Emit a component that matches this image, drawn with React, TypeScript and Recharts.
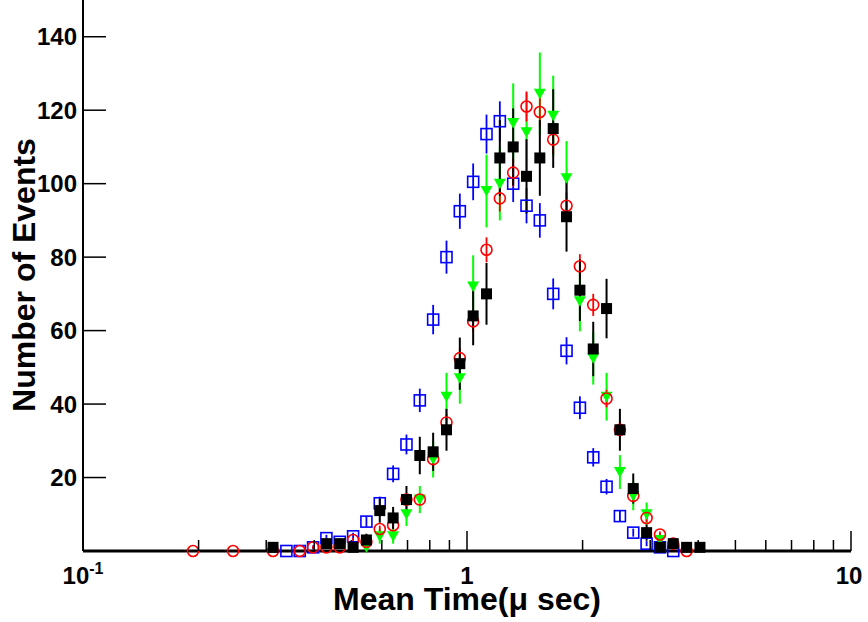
import React from "react";
import { ScatterChart, Scatter, XAxis, YAxis, ErrorBar, Label } from "recharts";

const _ = null;

// log-spaced bin centres, in microseconds
const binCenters = [
  0.1934, 0.2096, 0.227, 0.2459, 0.2664, 0.2885, 0.3125, 0.3386, 0.3668, 0.3973,
  0.4304, 0.4662, 0.5051, 0.5471, 0.5927, 0.6421, 0.6956, 0.7535, 0.8163, 0.8843,
  0.9579, 1.0376, 1.1241, 1.2176, 1.3191, 1.4289, 1.5477, 1.6768, 1.8163, 1.9679,
  2.1317, 2.309, 2.5015, 2.7098, 2.9358, 3.1802, 3.4443, 3.7318, 4.0428,
];

// open blue squares
const blueCounts = [
  _, _, _, _, _, _, _, 0, 0, 1,
  3.5, 2.5, 4, 8, 13, 21, 29, 41, 63, 80,
  92.5, 100.5, 113.5, 117, 100, 94, 90, 70, 54.5, 39,
  25.5, 17.5, 9.5, 5, 2, 1, 0, _, _,
];
const blueErrors = [
  _, _, _, _, _, _, _, 0, 0, 0.5,
  0.9, 0.8, 1, 1.4, 1.8, 2.3, 2.7, 3.2, 4, 4.5,
  4.8, 5, 5.3, 5.4, 5, 4.8, 4.7, 4.2, 3.7, 3.1,
  2.5, 2.1, 1.5, 1.1, 0.7, 0.5, 0, _, _,
];

// full green triangles (down)
const greenCounts = [
  _, _, _, _, _, _, _, _, _, _,
  _, _, _, 1, 4, 4, 10, 14, 25, 42,
  47, 72, 98, 100, 116.5, 114, 124.5, 118.5, 101.5, 68,
  52.5, 42, 21.5, 15, 10, 3, _, _, _,
];
const greenErrors = [
  _, _, _, _, _, _, _, _, _, _,
  _, _, _, 1, 2, 2, 3.2, 3.7, 5, 6.5,
  6.9, 8.5, 9.9, 10, 10.8, 10.7, 11.2, 10.9, 10.1, 8.2,
  7.2, 6.5, 4.6, 3.9, 3.2, 1.7, _, _, _,
];

// open red circles
const redCounts = [
  0, _, _, 0, _, _, 0, _, 0, 1,
  1, 1, 3, 2.5, 6, 7, 14, 14, 25, 35,
  52.5, 62.5, 82, 96, 103, 121, 119.5, 112, 94, 77.5,
  67, 41.5, 33, 15, 9, 4.5, 2, 0, _,
];
const redErrors = [
  0, _, _, 0, _, _, 0, _, 0, 0.4,
  0.4, 0.4, 0.6, 0.6, 0.9, 1, 1.4, 1.4, 1.9, 2.2,
  2.7, 2.9, 3.4, 3.6, 3.8, 4.1, 4, 3.9, 3.6, 3.3,
  3, 2.4, 2.1, 1.4, 1.1, 0.8, 0.5, 0, _,
];

// full black squares
const blackCounts = [
  _, _, _, _, _, _, 1, _, _, _,
  2, 2, 1, 3, 11, 9, 14, 26, 27, 33,
  51, 64, 70, 107, 110, 102, 107, 115, 91, 71,
  55, 66, 33, 17, 5, 1, 2, 1, 1,
];
const blackErrors = [
  _, _, _, _, _, _, 1, _, _, _,
  1.4, 1.4, 1, 1.7, 3.3, 3, 3.7, 5.1, 5.2, 5.7,
  7.1, 8, 8.4, 10.3, 10.5, 10.1, 10.3, 10.7, 9.5, 8.4,
  7.4, 8.1, 5.7, 4.1, 2.2, 1, 1.4, 1, 1,
];

const xTicks = [0.1, 0.2, 0.3, 0.4, 0.5, 0.6, 0.7, 0.8, 0.9, 1, 2, 3, 4, 5, 6, 7, 8, 9, 10];
const yTicks = [20, 40, 60, 80, 100, 120, 140];

const FONT = "'Liberation Sans', Arial, Helvetica, sans-serif";

function toPoints(counts: (number | null)[], errors: (number | null)[]) {
  const out: { x: number; y: number; err: number }[] = [];
  counts.forEach((c, i) => {
    if (c === null) return;
    out.push({ x: binCenters[i], y: c, err: errors[i] ?? 0 });
  });
  return out;
}

const blueData = toPoints(blueCounts, blueErrors);
const greenData = toPoints(greenCounts, greenErrors);
const redData = toPoints(redCounts, redErrors);
const blackData = toPoints(blackCounts, blackErrors);

const OpenSquare = ({ cx, cy }: any) => (
  <rect x={cx - 5.5} y={cy - 5.5} width={11} height={11} fill="none" stroke="#0000ff" strokeWidth={1.6} />
);
const OpenCircle = ({ cx, cy }: any) => (
  <circle cx={cx} cy={cy} r={5.5} fill="none" stroke="#ff0000" strokeWidth={1.6} />
);
const DownTriangle = ({ cx, cy }: any) => (
  <polygon points={`${cx - 6},${cy - 5} ${cx + 6},${cy - 5} ${cx},${cy + 5.5}`} fill="#00ff00" />
);
const FullSquare = ({ cx, cy }: any) => (
  <rect x={cx - 5.5} y={cy - 5.5} width={11} height={11} fill="#000" />
);

const YTick = ({ x, y, payload }: any) => (
  <g>
    <line x1={x + 4} x2={x + 27} y1={y} y2={y} stroke="#000" strokeWidth={1.5} />
    <text x={x - 2} y={y} dy="0.36em" textAnchor="end" fontFamily={FONT} fontWeight="bold" fontSize={24} fill="#000">
      {payload.value}
    </text>
  </g>
);

const XTick = ({ x, y, payload }: any) => {
  const v = payload.value;
  const major = v === 0.1 || v === 1 || v === 10;
  return (
    <g>
      <line x1={x} x2={x} y1={y} y2={y - (major ? 20 : 11)} stroke="#000" strokeWidth={1.5} />
      {v === 0.1 && (
        <text x={x} y={y + 33} textAnchor="middle" fontFamily={FONT} fontWeight="bold" fontSize={24} fill="#000">
          10<tspan dy={-10} fontSize={16}>-1</tspan>
        </text>
      )}
      {v === 1 && (
        <text x={x} y={y + 33} textAnchor="middle" fontFamily={FONT} fontWeight="bold" fontSize={24} fill="#000">
          1
        </text>
      )}
      {v === 10 && (
        <text x={x - 2} y={y + 33} textAnchor="middle" fontFamily={FONT} fontWeight="bold" fontSize={24} fill="#000">
          10
        </text>
      )}
    </g>
  );
};

export default function App() {
  return (
    <div style={{ position: "absolute", left: 0, top: 0, width: 868, height: 622, background: "#fff" }}>
      <ScatterChart width={868} height={622} margin={{ top: 0, right: 17, bottom: 0, left: 0 }}>
        <XAxis
          type="number"
          dataKey="x"
          scale="log"
          domain={[0.1, 10]}
          ticks={xTicks}
          interval={0}
          tickSize={0}
          tickMargin={0}
          tick={<XTick />}
          height={71}
          axisLine={{ stroke: "#000", strokeWidth: 3 }}
          tickLine={false}
        >
          <Label
            content={() => (
              <text x={467} y={610} textAnchor="middle" fontFamily={FONT} fontWeight="bold" fontSize={32} fill="#000">
                Mean Time(μ sec)
              </text>
            )}
          />
        </XAxis>
        <YAxis
          type="number"
          dataKey="y"
          domain={[0, 150]}
          ticks={yTicks}
          interval={0}
          tickSize={0}
          tickMargin={4}
          tick={<YTick />}
          width={83}
          axisLine={{ stroke: "#000", strokeWidth: 2 }}
          tickLine={false}
        >
          <Label
            content={() => (
              <text
                x={35}
                y={275}
                transform="rotate(-90 35 275)"
                textAnchor="middle"
                fontFamily={FONT}
                fontWeight="bold"
                fontSize={32}
                fill="#000"
              >
                Number of Events
              </text>
            )}
          />
        </YAxis>
        <Scatter data={blueData} shape={<OpenSquare />} isAnimationActive={false}>
          <ErrorBar dataKey="err" direction="y" width={0} stroke="#0000ff" strokeWidth={1.8} />
        </Scatter>
        <Scatter data={greenData} shape={<DownTriangle />} isAnimationActive={false}>
          <ErrorBar dataKey="err" direction="y" width={0} stroke="#00ff00" strokeWidth={2} />
        </Scatter>
        <Scatter data={redData} shape={<OpenCircle />} isAnimationActive={false}>
          <ErrorBar dataKey="err" direction="y" width={0} stroke="#ff0000" strokeWidth={1.8} />
        </Scatter>
        <Scatter data={blackData} shape={<FullSquare />} isAnimationActive={false}>
          <ErrorBar dataKey="err" direction="y" width={0} stroke="#000" strokeWidth={2} />
        </Scatter>
      </ScatterChart>
    </div>
  );
}
